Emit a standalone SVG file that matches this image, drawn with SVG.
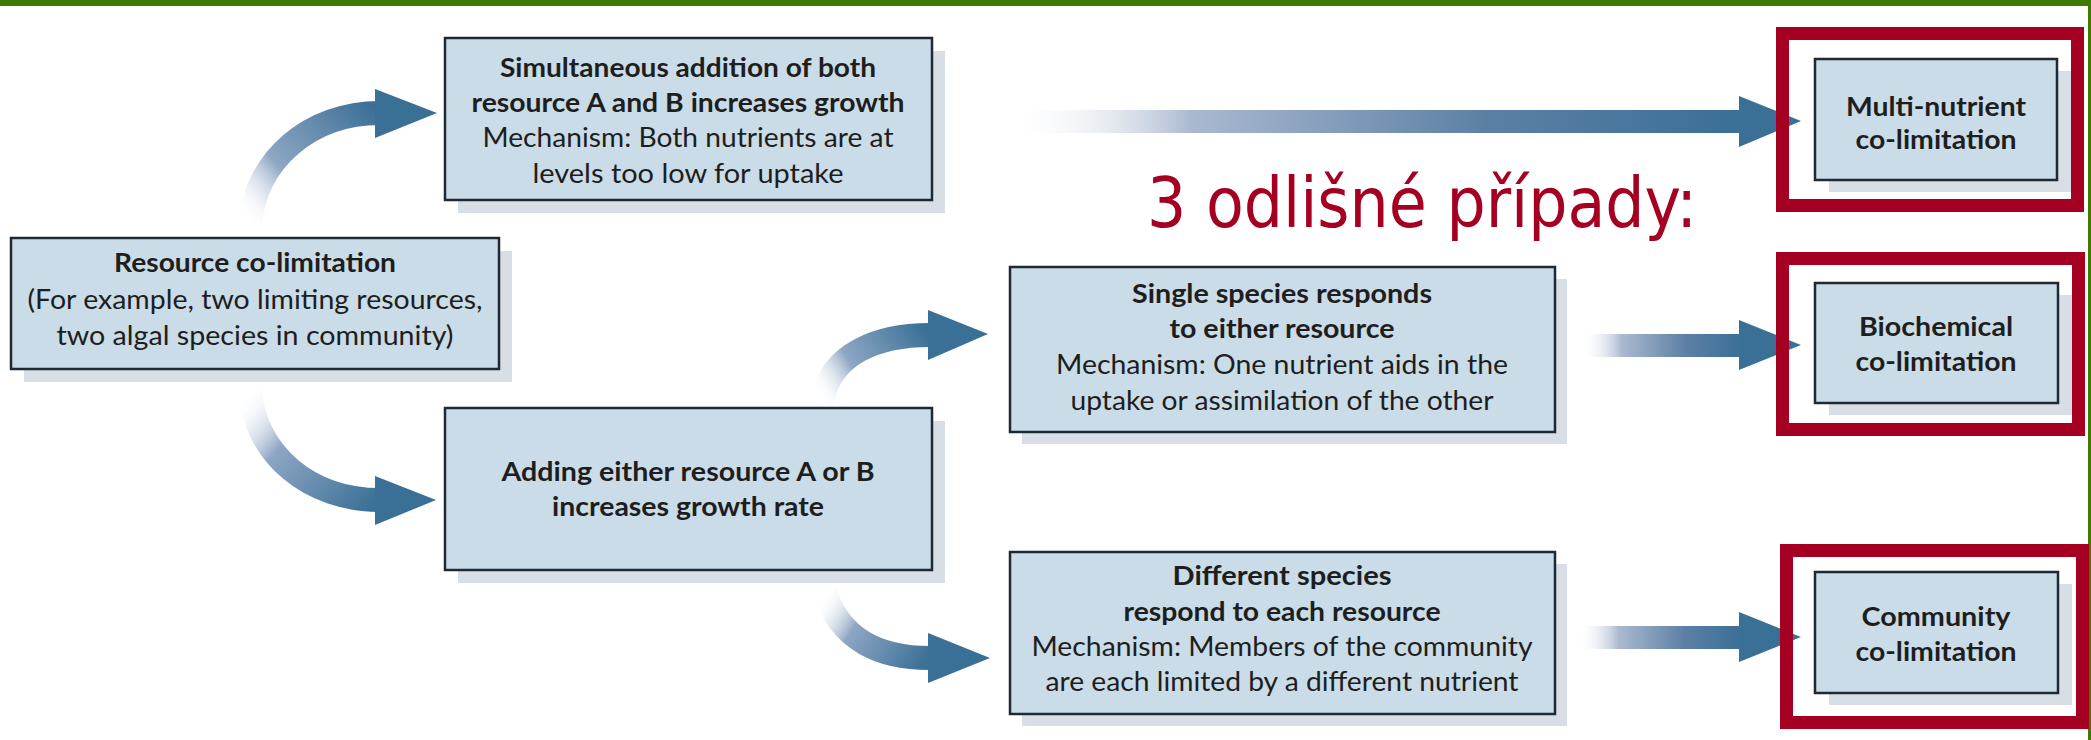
<svg xmlns="http://www.w3.org/2000/svg" width="2091" height="740" viewBox="0 0 2091 740">
<style>
.box{fill:#c9dce8;stroke:#1d2a34;stroke-width:2.5}
.sh{fill:#d7dee5}
.t{font-family:Lato,"Liberation Sans",sans-serif;font-size:26px;fill:#1e1e1e;text-anchor:middle}
.b{font-weight:bold}
.frame{fill:none;stroke:#a50021;stroke-width:13}
.shaft{fill:none;stroke-width:24}
.head{fill:#3a6f96}
</style>
<defs>
<linearGradient id="gH" x1="0" y1="0" x2="1" y2="0">
<stop offset="0" stop-color="#ffffff" stop-opacity="0"/>
<stop offset="0.25" stop-color="#aab9d0"/>
<stop offset="0.65" stop-color="#5c80a5"/>
<stop offset="1" stop-color="#3a6f96"/>
</linearGradient>
<linearGradient id="g1" gradientUnits="userSpaceOnUse" x1="250" y1="225" x2="380" y2="113">
<stop offset="0" stop-color="#ffffff" stop-opacity="0"/>
<stop offset="0.35" stop-color="#8ea6c4"/>
<stop offset="1" stop-color="#3a6f96"/>
</linearGradient>
<linearGradient id="g2" gradientUnits="userSpaceOnUse" x1="250" y1="390" x2="380" y2="500">
<stop offset="0" stop-color="#ffffff" stop-opacity="0"/>
<stop offset="0.35" stop-color="#8ea6c4"/>
<stop offset="1" stop-color="#3a6f96"/>
</linearGradient>
<linearGradient id="g3" gradientUnits="userSpaceOnUse" x1="822" y1="402" x2="930" y2="335">
<stop offset="0" stop-color="#ffffff" stop-opacity="0"/>
<stop offset="0.35" stop-color="#8ea6c4"/>
<stop offset="1" stop-color="#3a6f96"/>
</linearGradient>
<linearGradient id="g4" gradientUnits="userSpaceOnUse" x1="825" y1="592" x2="930" y2="658">
<stop offset="0" stop-color="#ffffff" stop-opacity="0"/>
<stop offset="0.35" stop-color="#8ea6c4"/>
<stop offset="1" stop-color="#3a6f96"/>
</linearGradient>
</defs>
<rect x="0" y="0" width="2091" height="740" fill="#ffffff"/>
<rect x="0" y="0" width="2091" height="6" fill="#3f7a00"/>
<rect x="2088" y="0" width="3" height="740" fill="#3f7a00"/>

<g id="connectors">
<path class="shaft" stroke="url(#g1)" d="M250,225 C255,160 310,113 380,113"/>
<polygon class="head" points="375,89 437,113 375,138"/>
<path class="shaft" stroke="url(#g2)" d="M250,390 C255,455 310,500 380,500"/>
<polygon class="head" points="375,476 436,500 375,525"/>
<path class="shaft" stroke="url(#g3)" d="M822,402 C830,352 880,335 930,335"/>
<polygon class="head" points="928,310 988,334 928,360"/>
<path class="shaft" stroke="url(#g4)" d="M825,592 C840,640 880,658 930,658"/>
<polygon class="head" points="928,633 990,658 928,683"/>
<rect x="1008" y="110" width="734" height="23" fill="url(#gH)"/>
<polygon class="head" points="1739,96 1801,121 1739,147"/>
<rect x="1582" y="334" width="160" height="23" fill="url(#gH)"/>
<polygon class="head" points="1739,320 1801,345 1739,370"/>
<rect x="1578" y="626" width="164" height="23" fill="url(#gH)"/>
<polygon class="head" points="1739,612 1801,637 1739,662"/>
</g>

<g id="resource">
<rect class="sh" x="24" y="251" width="488" height="131"/>
<rect class="box" x="11" y="238" width="488" height="131"/>
<text class="t b" x="255" y="272" textLength="282" lengthAdjust="spacingAndGlyphs">Resource co-limitation</text>
<text class="t" x="255" y="309" textLength="455" lengthAdjust="spacingAndGlyphs">(For example, two limiting resources,</text>
<text class="t" x="255" y="345" textLength="397" lengthAdjust="spacingAndGlyphs">two algal species in community)</text>
</g>

<g id="simultaneous">
<rect class="sh" x="458" y="51" width="487" height="162"/>
<rect class="box" x="445" y="38" width="487" height="162"/>
<text class="t b" x="688" y="77" textLength="376" lengthAdjust="spacingAndGlyphs">Simultaneous addition of both</text>
<text class="t b" x="688" y="112" textLength="433" lengthAdjust="spacingAndGlyphs">resource A and B increases growth</text>
<text class="t" x="688" y="147" textLength="411" lengthAdjust="spacingAndGlyphs">Mechanism: Both nutrients are at</text>
<text class="t" x="688" y="183" textLength="311" lengthAdjust="spacingAndGlyphs">levels too low for uptake</text>
</g>

<g id="adding">
<rect class="sh" x="458" y="421" width="487" height="162"/>
<rect class="box" x="445" y="408" width="487" height="162"/>
<text class="t b" x="688" y="481" textLength="373" lengthAdjust="spacingAndGlyphs">Adding either resource A or B</text>
<text class="t b" x="688" y="516" textLength="272" lengthAdjust="spacingAndGlyphs">increases growth rate</text>
</g>

<g id="single">
<rect class="sh" x="1022" y="279" width="545" height="165"/>
<rect class="box" x="1010" y="267" width="545" height="165"/>
<text class="t b" x="1282" y="303" textLength="300" lengthAdjust="spacingAndGlyphs">Single species responds</text>
<text class="t b" x="1282" y="338" textLength="225" lengthAdjust="spacingAndGlyphs">to either resource</text>
<text class="t" x="1282" y="374" textLength="452" lengthAdjust="spacingAndGlyphs">Mechanism: One nutrient aids in the</text>
<text class="t" x="1282" y="410" textLength="423" lengthAdjust="spacingAndGlyphs">uptake or assimilation of the other</text>
</g>

<g id="different">
<rect class="sh" x="1022" y="564" width="545" height="162"/>
<rect class="box" x="1010" y="552" width="545" height="162"/>
<text class="t b" x="1282" y="585" textLength="219" lengthAdjust="spacingAndGlyphs">Different species</text>
<text class="t b" x="1282" y="621" textLength="317" lengthAdjust="spacingAndGlyphs">respond to each resource</text>
<text class="t" x="1282" y="656" textLength="501" lengthAdjust="spacingAndGlyphs">Mechanism: Members of the community</text>
<text class="t" x="1282" y="691" textLength="473" lengthAdjust="spacingAndGlyphs">are each limited by a different nutrient</text>
</g>

<g id="multi">
<rect class="sh" x="1829" y="71" width="242" height="121"/>
<rect class="box" x="1815" y="59" width="242" height="121"/>
<text class="t b" x="1936" y="116" textLength="180" lengthAdjust="spacingAndGlyphs">Multi-nutrient</text>
<text class="t b" x="1936" y="149" textLength="161" lengthAdjust="spacingAndGlyphs">co-limitation</text>
<rect class="frame" x="1782.5" y="33.5" width="295" height="172"/>
</g>

<g id="biochemical">
<rect class="sh" x="1829" y="295" width="243" height="120"/>
<rect class="box" x="1815" y="283" width="243" height="120"/>
<text class="t b" x="1936" y="336" textLength="154" lengthAdjust="spacingAndGlyphs">Biochemical</text>
<text class="t b" x="1936" y="371" textLength="161" lengthAdjust="spacingAndGlyphs">co-limitation</text>
<rect class="frame" x="1782.5" y="258.5" width="296" height="171"/>
</g>

<g id="community">
<rect class="sh" x="1829" y="584" width="243" height="121"/>
<rect class="box" x="1815" y="572" width="243" height="121"/>
<text class="t b" x="1936" y="626" textLength="149" lengthAdjust="spacingAndGlyphs">Community</text>
<text class="t b" x="1936" y="661" textLength="161" lengthAdjust="spacingAndGlyphs">co-limitation</text>
<rect class="frame" x="1786.5" y="550.5" width="296" height="172"/>
</g>

<g id="heading">
<text x="1147" y="227" font-family="'DejaVu Sans Condensed','DejaVu Sans',sans-serif" font-size="70" fill="#a50021" textLength="550" lengthAdjust="spacingAndGlyphs">3 odlišné případy:</text>
</g>
</svg>
